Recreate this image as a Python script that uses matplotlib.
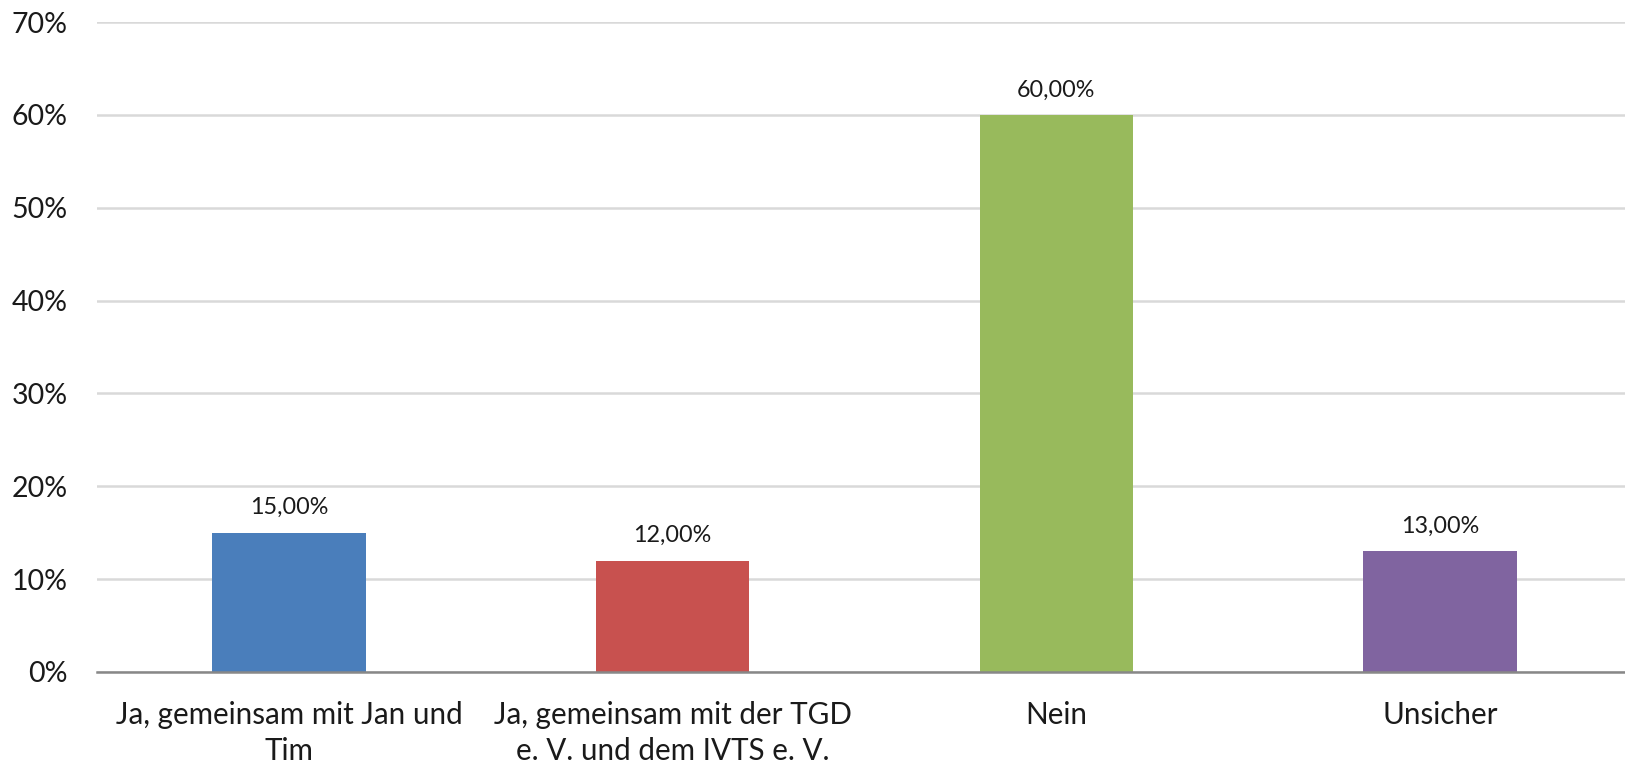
import matplotlib
matplotlib.use("Agg")
import matplotlib.pyplot as plt
from matplotlib.ticker import FuncFormatter

plt.rcParams['font.family'] = ['Lato', 'DejaVu Sans']

categories = ["Ja, gemeinsam mit Jan und\nTim",
              "Ja, gemeinsam mit der TGD\ne. V. und dem IVTS e. V.",
              "Nein",
              "Unsicher"]
values = [15.0, 12.0, 60.0, 13.0]
colors = ["#4A7EBB", "#C8514F", "#98BA5C", "#8064A0"]
yticks = [0, 10, 20, 30, 40, 50, 60, 70]

fig = plt.figure(figsize=(16.25, 7.68), dpi=100)
ax = fig.add_axes([97/1625, 96/768, 1535/1625, 650/768])

x = list(range(len(categories)))
bars = ax.bar(x, values, width=0.4, color=colors, zorder=3)

for xi, v in zip(x, values):
    ax.annotate(f"{v:.2f}%".replace(".", ","), (xi, v), xytext=(0, 18),
                textcoords="offset points", ha="center", va="center",
                fontsize=16.8, color="#1a1a1a")

ax.set_xlim(-0.5, len(categories) - 0.5)
ax.set_ylim(0, 70)
ax.set_yticks(yticks)
ax.yaxis.set_major_formatter(FuncFormatter(lambda v, p: f"{int(v)}%"))
ax.set_xticks(x)
ax.set_xticklabels(categories, fontsize=21.3, color="#1a1a1a", linespacing=1.32)
ax.tick_params(axis='y', labelsize=20.5, colors="#1a1a1a", length=0, pad=21)
ax.tick_params(axis='x', length=0, pad=21)

ax.grid(axis='y', color="#D9D9D9", linewidth=1.8, zorder=0)
for s in ["top", "right", "left"]:
    ax.spines[s].set_visible(False)
ax.spines["bottom"].set_color("#888888")
ax.spines["bottom"].set_linewidth(1.8)
ax.spines["bottom"].set_zorder(4)

fig.savefig("out.png", dpi=100)
